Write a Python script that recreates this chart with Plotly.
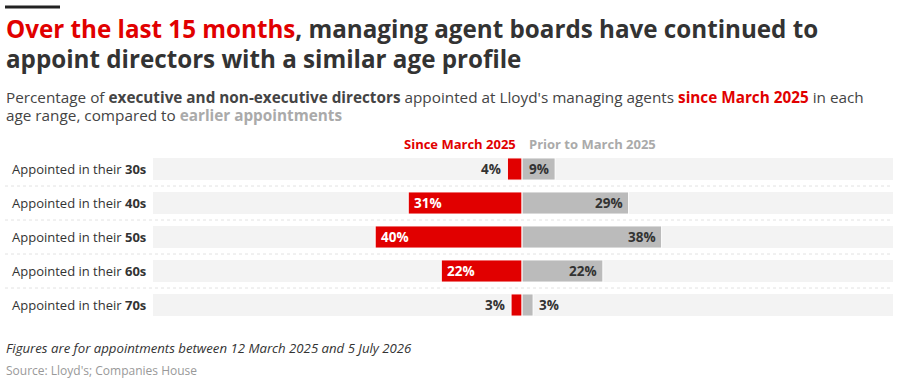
import plotly.graph_objects as go

categories = ["30s", "40s", "50s", "60s", "70s"]
since_march_2025 = [4, 31, 40, 22, 3]
prior_to_march_2025 = [9, 29, 38, 22, 3]

RED = "#e10000"
GREY = "#bbbbbb"
DARK = "#333333"
LIGHTTXT = "#aaaaaa"
FONT = "Open Sans"

W, H = 900, 382
ML, MR, MT, MB = 153, 7, 152, 60
PW = W - ML - MR
PH = H - MT - MB


def px(x):
    return (x - ML) / PW


def py(y):
    return (H - MB - y) / PH


labels = [f"Appointed in their <b>{c}</b>" for c in categories]

fig = go.Figure()
fig.add_trace(go.Bar(
    y=labels, x=[-v for v in since_march_2025], orientation="h",
    marker=dict(color=RED, line=dict(color="white", width=1)),
    hoverinfo="skip", name="Since March 2025"))
fig.add_trace(go.Bar(
    y=labels, x=prior_to_march_2025, orientation="h",
    marker=dict(color=GREY, line=dict(color="white", width=1)),
    hoverinfo="skip", name="Prior to March 2025"))

shapes = []
annotations = []

# row backgrounds and separators
for i, lab in enumerate(labels):
    shapes.append(dict(type="rect", xref="paper", yref="y", x0=0, x1=1,
                       y0=i - 0.325, y1=i + 0.325, fillcolor="#f3f3f3",
                       line=dict(width=0), layer="below"))
    if i < len(labels) - 1:
        shapes.append(dict(type="line", xref="paper", yref="y", x0=px(5), x1=1,
                           y0=i + 0.5, y1=i + 0.5,
                           line=dict(color="#e2e2e2", width=1, dash="dot")))
    annotations.append(dict(xref="paper", yref="y", x=px(10), y=i, text=lab,
                            xanchor="left", yanchor="middle", showarrow=False,
                            font=dict(family=FONT, size=13, color=DARK)))

# value labels
for i, (a, b) in enumerate(zip(since_march_2025, prior_to_march_2025)):
    if a >= 10:
        annotations.append(dict(x=-a, y=i, xref="x", yref="y", text=f"<b>{a}%</b>",
                                xanchor="left", xshift=4, showarrow=False,
                                font=dict(family=FONT, size=13.5, color="white")))
    else:
        annotations.append(dict(x=-a, y=i, xref="x", yref="y", text=f"<b>{a}%</b>",
                                xanchor="right", xshift=-4, showarrow=False,
                                font=dict(family=FONT, size=13.5, color=DARK)))
    if b >= 8:
        annotations.append(dict(x=b, y=i, xref="x", yref="y", text=f"<b>{b}%</b>",
                                xanchor="right", xshift=-4, showarrow=False,
                                font=dict(family=FONT, size=13.5, color=DARK)))
    else:
        annotations.append(dict(x=b, y=i, xref="x", yref="y", text=f"<b>{b}%</b>",
                                xanchor="left", xshift=4, showarrow=False,
                                font=dict(family=FONT, size=13.5, color=DARK)))

# column headers
annotations.append(dict(xref="x", yref="paper", x=0, y=py(144), xshift=-4,
                        text="<b>Since March 2025</b>", xanchor="right", yanchor="middle",
                        showarrow=False, font=dict(family=FONT, size=13, color=RED)))
annotations.append(dict(xref="x", yref="paper", x=0, y=py(144), xshift=5,
                        text="<b>Prior to March 2025</b>", xanchor="left", yanchor="middle",
                        showarrow=False, font=dict(family=FONT, size=13, color=LIGHTTXT)))

# title
annotations.append(dict(xref="paper", yref="paper", x=px(4), y=py(29),
                        text=f"<b><span style='color:{RED}'>Over the last 15 months</span>, managing agent boards have continued to</b>",
                        xanchor="left", yanchor="middle", showarrow=False,
                        font=dict(family=FONT, size=24.2, color=DARK)))
annotations.append(dict(xref="paper", yref="paper", x=px(4), y=py(59),
                        text="<b>appoint directors with a similar age profile</b>",
                        xanchor="left", yanchor="middle", showarrow=False,
                        font=dict(family=FONT, size=24.2, color=DARK)))
# subtitle
annotations.append(dict(xref="paper", yref="paper", x=px(4), y=py(97),
                        text=f"Percentage of <b>executive and non-executive directors</b> appointed at Lloyd's managing agents <b><span style='color:{RED}'>since March 2025</span></b> in each",
                        xanchor="left", yanchor="middle", showarrow=False,
                        font=dict(family=FONT, size=15.3, color="#444444")))
annotations.append(dict(xref="paper", yref="paper", x=px(4), y=py(115),
                        text=f"age range, compared to <b><span style='color:{LIGHTTXT}'>earlier appointments</span></b>",
                        xanchor="left", yanchor="middle", showarrow=False,
                        font=dict(family=FONT, size=15.3, color="#444444")))
# footnotes
annotations.append(dict(xref="paper", yref="paper", x=px(4), y=py(348),
                        text="<i>Figures are for appointments between 12 March 2025 and 5 July 2026</i>",
                        xanchor="left", yanchor="middle", showarrow=False,
                        font=dict(family=FONT, size=13.2, color=DARK)))
annotations.append(dict(xref="paper", yref="paper", x=px(4), y=py(370),
                        text="Source: Lloyd's; Companies House",
                        xanchor="left", yanchor="middle", showarrow=False,
                        font=dict(family=FONT, size=12, color="#999999")))

# top accent line
shapes.append(dict(type="line", xref="paper", yref="paper", x0=px(5), x1=px(60),
                   y0=py(7), y1=py(7), line=dict(color="#222222", width=3)))

fig.update_layout(
    width=W, height=H,
    margin=dict(l=ML, r=MR, t=MT, b=MB),
    paper_bgcolor="white", plot_bgcolor="white",
    barmode="overlay", bargap=0.35, showlegend=False,
    xaxis=dict(range=[-100.5, 101], visible=False, fixedrange=True),
    yaxis=dict(autorange="reversed", showticklabels=False, showgrid=False,
               zeroline=False, fixedrange=True),
    shapes=shapes, annotations=annotations,
    font=dict(family=FONT),
)

fig.write_html("out.html", config=dict(displayModeBar=False))
